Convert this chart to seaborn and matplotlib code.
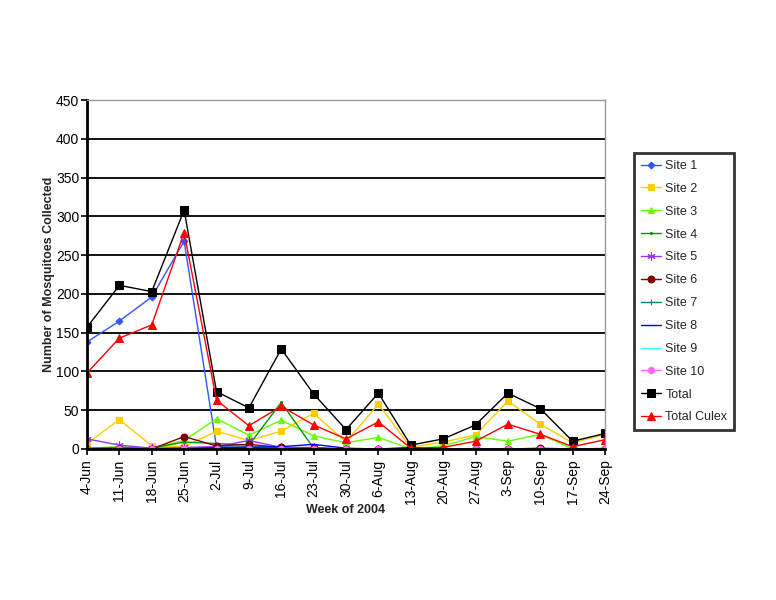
import numpy as np
import pandas as pd
import seaborn as sns
import matplotlib.pyplot as plt

# week labels
weeks = ['4-Jun', '11-Jun', '18-Jun', '25-Jun', '2-Jul', '9-Jul', '16-Jul', '23-Jul',
         '30-Jul', '6-Aug', '13-Aug', '20-Aug', '27-Aug', '3-Sep', '10-Sep', '17-Sep', '24-Sep']

# counts per site
site1 = [138, 165, 196, 268, 3, 0, 0, 0, 0, 0, 0, 0, 0, 0, 0, 0, 0]
site2 = [7, 38, 4, 3, 23, 11, 23, 46, 9, 58, 2, 9, 18, 62, 32, 8, 19]
site3 = [1, 3, 1, 11, 39, 18, 37, 17, 8, 15, 0, 4, 16, 10, 19, 0, 1]
site4 = [1, 2, 1, 9, 7, 5, 60, 1, 0, 0, 0, 0, 0, 0, 0, 0, 0]
site5 = [13, 5, 1, 2, 3, 11, 2, 2, 0, 0, 0, 0, 0, 0, 0, 0, 0]
site6 = [0, 0, 0, 16, 4, 6, 2, 1, 0, 0, 0, 0, 0, 0, 1, 0, 0]
site7 = [0, 0, 0, 0, 2, 3, 2, 1, 0, 0, 0, 0, 0, 0, 0, 0, 0]
site8 = [0, 0, 0, 0, 2, 2, 3, 6, 1, 0, 2, 0, 0, 0, 0, 0, 0]
site9 = [0, 0, 0, 0, 0, 0, 0, 0, 0, 0, 0, 0, 0, 0, 0, 0, 0]
site10 = [0, 0, 0, 0, 0, 0, 0, 0, 0, 0, 0, 0, 0, 0, 0, 0, 0]
total = [157, 211, 203, 308, 74, 53, 129, 71, 25, 72, 5, 13, 31, 72, 52, 10, 20]
total_culex = [98, 143, 160, 279, 63, 30, 55, 31, 13, 35, 1, 2, 10, 32, 19, 3, 12]

series = [
    ('Site 1', site1, '#3355ff', 'D', 3.5),
    ('Site 2', site2, '#ffcc00', 's', 4.5),
    ('Site 3', site3, '#66ff00', '^', 4.5),
    ('Site 4', site4, '#009900', '.', 3),
    ('Site 5', site5, '#9933ff', (6, 2, 0), 6),
    ('Site 6', site6, '#800000', 'o', 5),
    ('Site 7', site7, '#008080', '+', 4),
    ('Site 8', site8, '#0000ff', '_', 4),
    ('Site 9', site9, '#33ffff', '', 0),
    ('Site 10', site10, '#ff66ff', 'o', 4.5),
    ('Total', total, '#000000', 's', 5.5),
    ('Total Culex', total_culex, '#ff0000', '^', 5.5),
]

sns.set_style('white')
plt.rcParams['font.family'] = ['Liberation Sans', 'DejaVu Sans']

fig = plt.figure(figsize=(7.76, 6), dpi=100)
ax = fig.add_axes([87 / 776, 1 - 449 / 600, (605 - 87) / 776, (449 - 100) / 600])

x = np.arange(len(weeks))
for name, vals, col, mk, ms in series:
    df = pd.DataFrame({'week': x, 'count': vals})
    sns.lineplot(data=df, x='week', y='count', color=col, marker=mk if mk else None,
                 markersize=ms, markeredgecolor=col, linewidth=1.0, label=name, ax=ax)

ax.set_xlim(0, len(weeks) - 1)
ax.set_ylim(0, 450)
ax.set_yticks(range(0, 451, 50))
ax.set_xticks(x)
ax.set_xticklabels(weeks, rotation=90)
ax.yaxis.grid(True, color='black', linewidth=1.3)
ax.set_axisbelow(True)
ax.tick_params(axis='both', direction='out', length=4, width=1.2, colors='black',
               labelsize=10, left=True, bottom=True)
ax.tick_params(axis='y', pad=1.5)

for s in ['left', 'bottom']:
    ax.spines[s].set_color('black')
    ax.spines[s].set_linewidth(2)
for s in ['top', 'right']:
    ax.spines[s].set_color('#999999')
    ax.spines[s].set_linewidth(1)

ax.set_xlabel('Week of 2004', fontsize=9, fontweight='bold', labelpad=0)
ax.set_ylabel('Number of Mosquitoes Collected', fontsize=9, fontweight='bold', labelpad=1)

leg = ax.legend(loc='upper left', bbox_to_anchor=(634 / 776, 1 - 153 / 600),
                bbox_transform=fig.transFigure, fontsize=9, frameon=True,
                fancybox=False, labelspacing=0.87, handlelength=1.6,
                handletextpad=0.35, borderpad=0.55, borderaxespad=0)
leg.get_frame().set_edgecolor('black')
leg.get_frame().set_linewidth(2)

fig.savefig('out.png', dpi=100)
